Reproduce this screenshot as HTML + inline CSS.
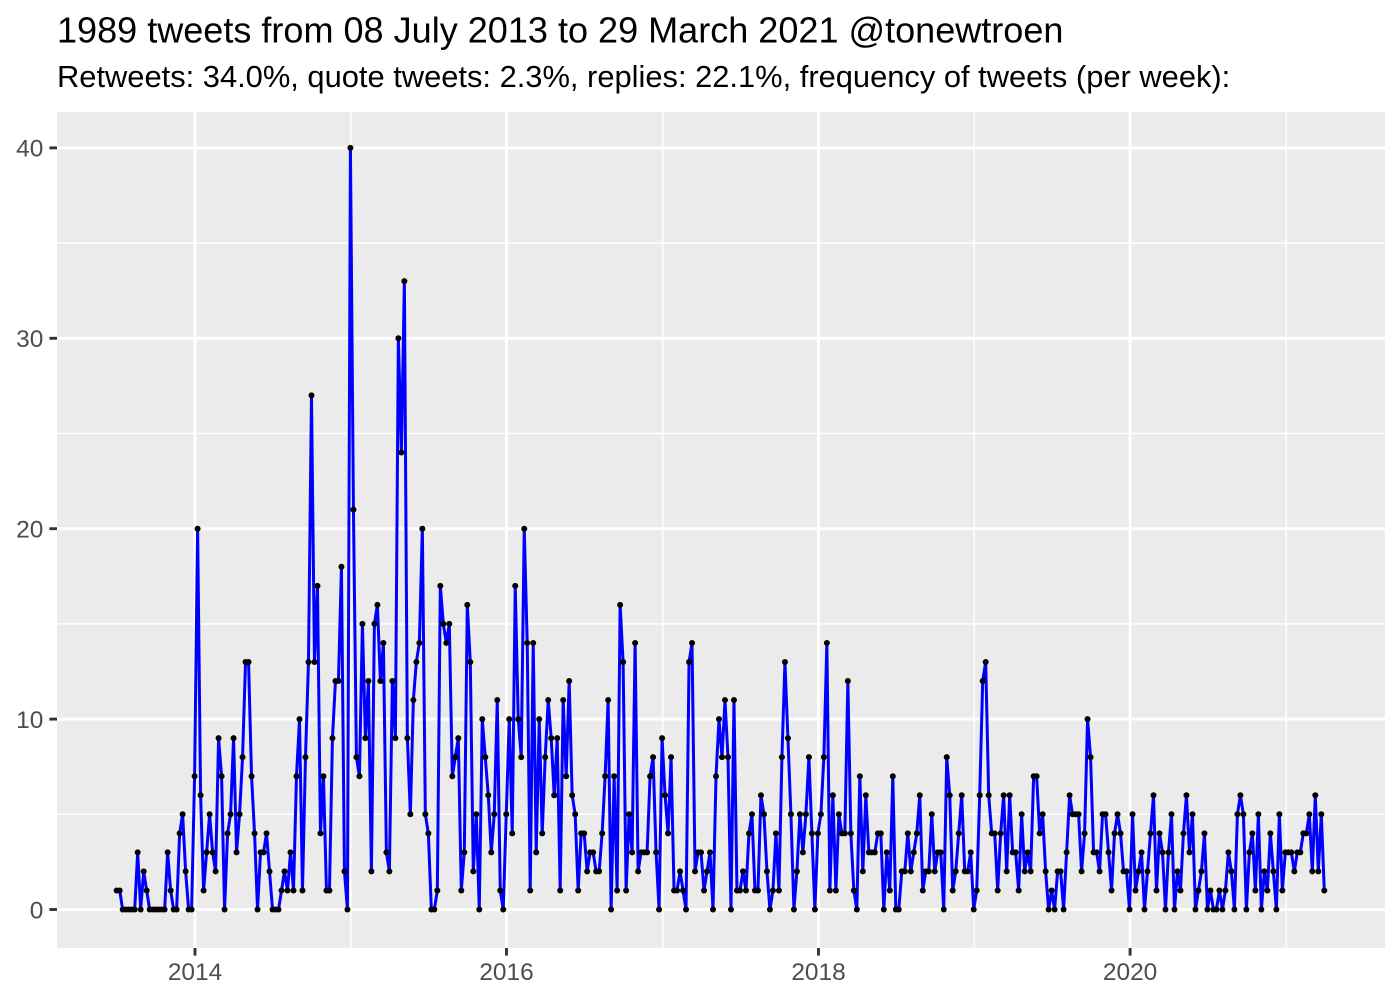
<!DOCTYPE html>
<html>
<head>
<meta charset="utf-8">
<style>
  html,body{margin:0;padding:0;background:#fff;}
  svg{display:block;}
  text{font-family:"Liberation Sans", Arial, sans-serif;}
</style>
</head>
<body>
<svg id="s" width="1400" height="1000" viewBox="0 0 1400 1000" xmlns="http://www.w3.org/2000/svg">
  <rect x="0" y="0" width="1400" height="1000" fill="#ffffff"/>
  <text x="57" y="42.5" font-size="36.05" fill="#000">1989 tweets from 08 July 2013 to 29 March 2021 @tonewtroen</text>
  <text x="57" y="87" font-size="30.87" fill="#000">Retweets: 34.0%, quote tweets: 2.3%, replies: 22.1%, frequency of tweets (per week):</text>

  <rect x="57" y="112" width="1328" height="836" fill="#EBEBEB"/>
  <!-- minor grid -->
  <g stroke="#ffffff" stroke-width="1.5">
    <line x1="57" x2="1385" y1="814.3" y2="814.3"/>
    <line x1="57" x2="1385" y1="623.9" y2="623.9"/>
    <line x1="57" x2="1385" y1="433.5" y2="433.5"/>
    <line x1="57" x2="1385" y1="243.1" y2="243.1"/>
    <line y1="112" y2="948" x1="350.8" x2="350.8"/>
    <line y1="112" y2="948" x1="662.7" x2="662.7"/>
    <line y1="112" y2="948" x1="974.3" x2="974.3"/>
    <line y1="112" y2="948" x1="1286.3" x2="1286.3"/>
  </g>
  <!-- major grid -->
  <g stroke="#ffffff" stroke-width="2.9">
    <line x1="57" x2="1385" y1="909.5" y2="909.5"/>
    <line x1="57" x2="1385" y1="719.1" y2="719.1"/>
    <line x1="57" x2="1385" y1="528.7" y2="528.7"/>
    <line x1="57" x2="1385" y1="338.3" y2="338.3"/>
    <line x1="57" x2="1385" y1="147.9" y2="147.9"/>
    <line y1="112" y2="948" x1="195" x2="195"/>
    <line y1="112" y2="948" x1="506.5" x2="506.5"/>
    <line y1="112" y2="948" x1="818.5" x2="818.5"/>
    <line y1="112" y2="948" x1="1130.1" x2="1130.1"/>
  </g>

  <g id="data"></g>

  <!-- ticks -->
  <g stroke="#333333" stroke-width="2.9">
    <line x1="49.4" x2="57" y1="909.5" y2="909.5"/>
    <line x1="49.4" x2="57" y1="719.1" y2="719.1"/>
    <line x1="49.4" x2="57" y1="528.7" y2="528.7"/>
    <line x1="49.4" x2="57" y1="338.3" y2="338.3"/>
    <line x1="49.4" x2="57" y1="147.9" y2="147.9"/>
    <line y1="948" y2="955.6" x1="195" x2="195"/>
    <line y1="948" y2="955.6" x1="506.5" x2="506.5"/>
    <line y1="948" y2="955.6" x1="818.5" x2="818.5"/>
    <line y1="948" y2="955.6" x1="1130.1" x2="1130.1"/>
  </g>
  <g font-size="24.44" fill="#4D4D4D" text-anchor="end">
    <text x="43.3" y="918.3">0</text>
    <text x="43.3" y="727.9">10</text>
    <text x="43.3" y="537.5">20</text>
    <text x="43.3" y="347.1">30</text>
    <text x="43.3" y="156.7">40</text>
  </g>
  <g font-size="24.44" fill="#4D4D4D" text-anchor="middle">
    <text x="195" y="980">2014</text>
    <text x="506.5" y="980">2016</text>
    <text x="818.5" y="980">2018</text>
    <text x="1130.1" y="980">2020</text>
  </g>
</svg>
<script>
(function(){
var v=[1,1,0,0,0,0,0,3,0,2,1,0,0,0,0,0,0,3,1,0,0,4,5,2,0,0,7,20,6,1,3,5,3,2,9,7,0,4,5,9,
3,5,8,13,13,7,4,0,3,3,4,2,0,0,0,1,2,1,3,1,7,10,1,8,13,27,13,17,4,7,1,1,9,12,12,18,2,0,40,21,
8,7,15,9,12,2,15,16,12,14,3,2,12,9,30,24,33,9,5,11,13,14,20,5,4,0,0,1,17,15,14,15,7,8,9,1,3,16,13,2,
5,0,10,8,6,3,5,11,1,0,5,10,4,17,10,8,20,14,1,14,3,10,4,8,11,9,6,9,1,11,7,12,6,5,1,4,4,2,3,3,
2,2,4,7,11,0,7,1,16,13,1,5,3,14,2,3,3,3,7,8,3,0,9,6,4,8,1,1,2,1,0,13,14,2,3,3,1,2,3,0,
7,10,8,11,8,0,11,1,1,2,1,4,5,1,1,6,5,2,0,1,4,1,8,13,9,5,0,2,5,3,5,8,4,0,4,5,8,14,1,6,
1,5,4,4,12,4,1,0,7,2,6,3,3,3,4,4,0,3,1,7,0,0,2,2,4,2,3,4,6,1,2,2,5,2,3,3,0,8,6,1,
2,4,6,2,2,3,0,1,6,12,13,6,4,4,1,4,6,2,6,3,3,1,5,2,3,2,7,7,4,5,2,0,1,0,2,2,0,3,6,5,
5,5,2,4,10,8,3,3,2,5,5,3,1,4,5,4,2,2,0,5,1,2,3,0,2,4,6,1,4,3,0,3,5,0,2,1,4,6,3,5,
0,1,2,4,0,1,0,0,1,0,1,3,2,0,5,6,5,0,3,4,1,5,0,2,1,4,2,0,5,1,3,3,3,2,3,3,4,4,5,2,6,2,5,1];
var x0=116.7, x1=1324.3, n=v.length;
var dx=(x1-x0)/(n-1);
var pts=[], circ='';
for(var i=0;i<n;i++){
  var x=(x0+dx*i).toFixed(2), y=(909.5-19.04*v[i]).toFixed(2);
  pts.push(x+','+y);
  circ+='<circle cx="'+x+'" cy="'+y+'" r="3"/>';
}
var g=document.getElementById('data');
g.innerHTML='<polyline fill="none" stroke="#0000FF" stroke-width="3" stroke-linejoin="round" points="'+pts.join(' ')+'"/>'+
 '<g fill="#000">'+circ+'</g>';
})();
</script>
</body>
</html>
